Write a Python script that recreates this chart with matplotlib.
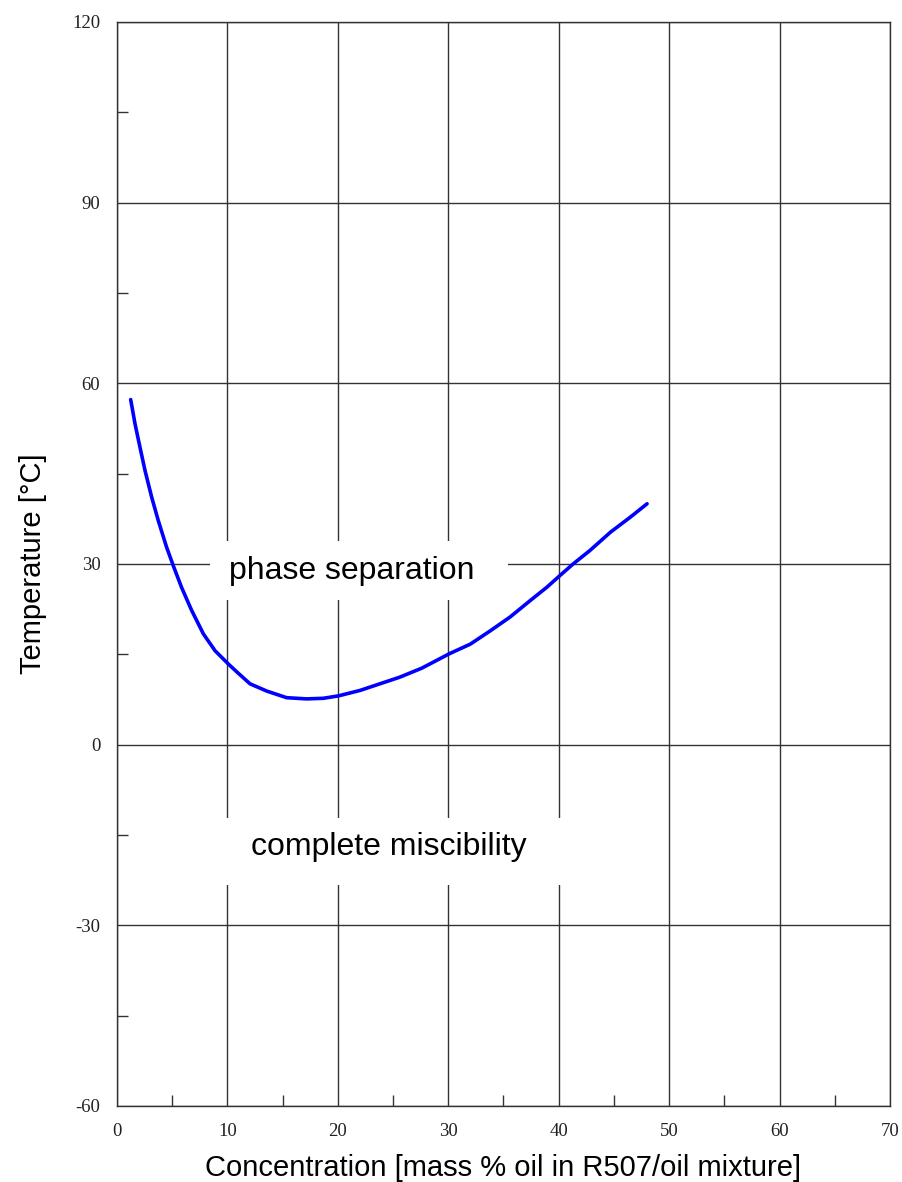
import matplotlib.pyplot as plt
from matplotlib.patches import Rectangle
from matplotlib.ticker import MultipleLocator

plt.rcParams['axes.unicode_minus'] = False

# miscibility curve
conc = [1.24, 1.63, 2.08, 2.54, 3.14, 3.74, 4.49, 5.10, 5.85, 6.76, 7.82,
        8.88, 10.08, 10.9, 12.05, 13.56, 15.36, 17.17, 18.69, 20.05, 22.0,
        23.8, 25.6, 27.6, 30.1, 32.0, 33.8, 35.6, 37.4, 38.9, 40.0, 41.3,
        42.8, 44.7, 46.5, 48.0]
temp = [57.3, 53.3, 49.4, 45.5, 41.1, 37.2, 32.8, 29.7, 26.1, 22.3, 18.4,
        15.6, 13.4, 12.0, 10.1, 8.9, 7.8, 7.6, 7.7, 8.1, 9.0,
        10.1, 11.2, 12.7, 15.1, 16.7, 18.9, 21.2, 23.9, 26.1, 27.9, 30.0,
        32.2, 35.3, 37.8, 40.0]

x_ticks = [0, 10, 20, 30, 40, 50, 60, 70]
y_ticks = [-60, -30, 0, 30, 60, 90, 120]

region_labels = ["phase separation", "complete miscibility"]
# label positions (concentration, temperature) and white box extents
label_pos = [(21.3, 28.9), (24.6, -17.0)]
label_boxes = [(8.4, 24.1, 27.0, 9.8), (9.2, -23.3, 32.0, 11.2)]

edge = "#333333"

fig = plt.figure(figsize=(9.02, 11.82), dpi=100)
ax = fig.add_axes([0.1297, 0.0643, 0.857, 0.9171])

ax.set_xlim(0, 70)
ax.set_ylim(-60, 120)
ax.set_xticks(x_ticks)
ax.set_yticks(y_ticks)
ax.xaxis.set_minor_locator(MultipleLocator(5))
ax.yaxis.set_minor_locator(MultipleLocator(15))
ax.grid(True, which="major", color=edge, linewidth=1.0)
ax.tick_params(which="major", length=0, pad=12, labelsize=13.5, labelcolor="#222222")
ax.tick_params(which="minor", direction="in", length=8, width=1.0, color=edge)
for lab in ax.get_xticklabels() + ax.get_yticklabels():
    lab.set_family("Liberation Serif")
for s in ax.spines.values():
    s.set_color(edge)
    s.set_linewidth(1.0)

for (bx, by, bw, bh) in label_boxes:
    ax.add_patch(Rectangle((bx, by), bw, bh, facecolor="white", edgecolor="none", zorder=2))

for txt, (tx, ty) in zip(region_labels, label_pos):
    ax.text(tx, ty, txt, ha="center", va="center", fontsize=23,
            family="Liberation Sans", zorder=3)

ax.plot(conc, temp, color="#0000ff", linewidth=2.6, zorder=4,
        solid_capstyle="round", solid_joinstyle="round")

ax.set_xlabel("Concentration [mass % oil in R507/oil mixture]", fontsize=21,
              family="Liberation Sans", labelpad=10)
ax.set_ylabel("Temperature [°C]", fontsize=21, family="Liberation Sans", labelpad=18)
ax.set_axisbelow(True)

fig.savefig("out.png", dpi=100)
